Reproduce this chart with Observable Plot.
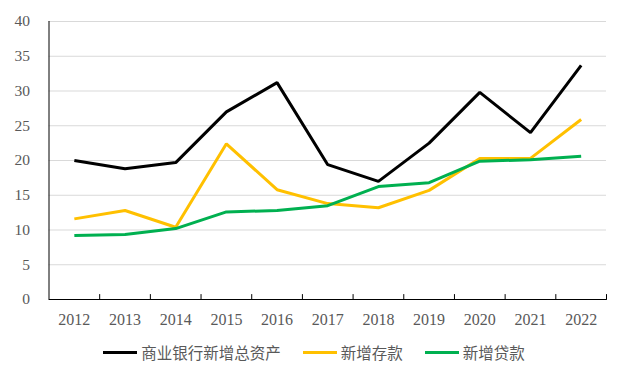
<!DOCTYPE html>
<html><head><meta charset="utf-8">
<script src="https://cdn.jsdelivr.net/npm/d3@7"></script>
<script src="https://cdn.jsdelivr.net/npm/@observablehq/plot@0.6"></script>
<style>
body{margin:0;background:#fff;width:624px;height:366px;overflow:hidden}
#legend{display:flex;justify-content:center;align-items:center;height:36px;font-family:"Noto Sans CJK SC","Noto Sans",sans-serif;font-size:15.5px;color:#595959;padding-left:4px}
.item{display:flex;align-items:center;margin:0 11px}
.sw{width:34px;height:3px;margin-right:4px}
</style></head>
<body><div id="chart"></div><div id="legend"></div>
<script>
const years = [2012,2013,2014,2015,2016,2017,2018,2019,2020,2021,2022];
const seriesNames = ["商业银行新增总资产","新增存款","新增贷款"];
const assets = [20.0,18.8,19.7,27.0,31.2,19.4,17.0,22.5,29.8,24.0,33.7];
const deposits = [11.6,12.8,10.4,22.4,15.8,13.8,13.2,15.7,20.3,20.3,25.9];
const loans = [9.2,9.35,10.2,12.6,12.8,13.5,16.25,16.8,19.9,20.1,20.6];
const colors = ["#000000","#FFC000","#00B050"];
const yTicks = [0,5,10,15,20,25,30,35,40];

const values = [assets, deposits, loans];
const data = [];
seriesNames.forEach((s,i)=>years.forEach((y,j)=>data.push({series:s, year:y, value:values[i][j]})));
const bounds = [years[0]-0.5, ...years.map(y=>y+0.5)];
const serif = "'Liberation Serif','DejaVu Serif',serif";

const chart = Plot.plot({
  width: 624, height: 334,
  marginLeft: 48.5, marginRight: 18, marginTop: 21, marginBottom: 35,
  x: {type:"linear", domain:[bounds[0], bounds[bounds.length-1]]},
  y: {domain:[0,40]},
  color: {domain: seriesNames, range: colors},
  style: {fontFamily: serif, background:"#fff"},
  marks: [
    Plot.gridY(yTicks.filter(d=>d>0), {stroke:"#d9d9d9", strokeOpacity:1}),
    Plot.axisY(yTicks, {tickSize:0, tickPadding:19, fontSize:15.5, fill:"#595959", label:null}),
    Plot.axisX(years, {tickSize:0, tickPadding:14, fontSize:16, fill:"#595959", tickFormat:d=>String(d), label:null}),
    Plot.line(data, {x:"year", y:"value", z:"series", stroke:"series", strokeWidth:3, strokeLinejoin:"miter", strokeLinecap:"butt"}),
    Plot.ruleY([0], {stroke:"#000"}),
    Plot.ruleX([bounds[0]], {stroke:"#000"}),
    Plot.vector(bounds.slice(1), {x:d=>d, frameAnchor:"bottom", length:5, anchor:"start", stroke:"#000", strokeWidth:1,
      shape:{draw(ctx,l){ctx.moveTo(0,0);ctx.lineTo(0,-l);}}})
  ]
});
document.getElementById("chart").appendChild(chart);
const lg = document.getElementById("legend");
seriesNames.forEach((s,i)=>{
  const it=document.createElement("div");it.className="item";
  it.innerHTML=`<div class="sw" style="background:${colors[i]}"></div><span>${s}</span>`;
  lg.appendChild(it);
});
</script></body></html>
